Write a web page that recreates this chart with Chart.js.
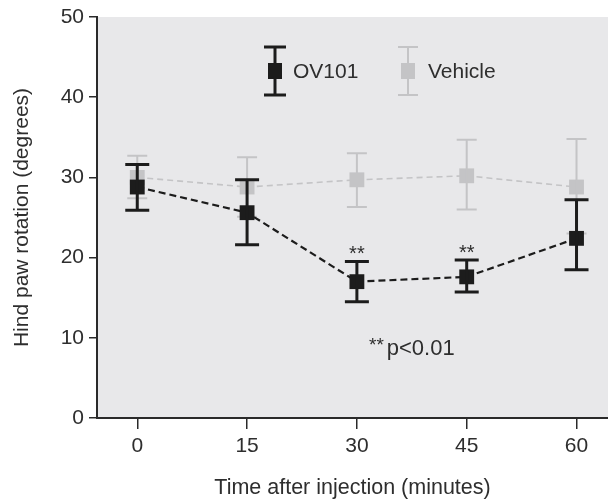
<!DOCTYPE html>
<html>
<head>
<meta charset="utf-8">
<script src="https://cdn.jsdelivr.net/npm/chart.js@4/dist/chart.umd.min.js"></script>
<style>
  html, body { margin: 0; padding: 0; background: #ffffff; }
  #wrap { width: 608px; height: 501px; }
</style>
</head>
<body>
<div id="wrap"><canvas id="c" width="608" height="501"></canvas></div>
<script>
// ---- data ----
const timePoints = [0, 15, 30, 45, 60];
const xTickLabels = [0, 15, 30, 45, 60];
const yTickValues = [0, 10, 20, 30, 40, 50];

const ov101Mean  = [28.8, 25.6, 17.0, 17.6, 22.4];
const ov101Upper = [31.6, 29.7, 19.5, 19.7, 27.2];
const ov101Lower = [25.9, 21.6, 14.5, 15.7, 18.5];

const vehicleMean  = [30.0, 28.8, 29.7, 30.2, 28.8];
const vehicleUpper = [32.7, 32.5, 33.0, 34.7, 34.8];
const vehicleLower = [27.4, 25.1, 26.3, 26.0, 23.0];

const significantTimes = [30, 45];
const seriesNames = ['OV101', 'Vehicle'];
const noteText = ['**', 'p<0.01'];
const xTitle = 'Time after injection (minutes)';
const yTitle = 'Hind paw rotation (degrees)';

// ---- styles ----
const FONT = '"Liberation Sans", Arial, Helvetica, sans-serif';
const TEXT = '#2e2e2e';
const AXIS = '#2a2a2a';
const PLOT_BG = '#e8e8ea';
const BLACK = '#1c1c1c';
const GREY = '#c4c4c6';

const ov101Pts = timePoints.map((t, i) => ({x: t, y: ov101Mean[i]}));
const vehPts = timePoints.map((t, i) => ({x: t, y: vehicleMean[i]}));

const errorBars = [
  {upper: ov101Upper, lower: ov101Lower, color: BLACK, width: 3, cap: 12},
  {upper: vehicleUpper, lower: vehicleLower, color: GREY, width: 2, cap: 10}
];

const bgPlugin = {
  id: 'bg',
  beforeDraw(chart) {
    const {ctx, chartArea: a} = chart;
    ctx.save();
    ctx.fillStyle = PLOT_BG;
    ctx.fillRect(a.left, a.top, a.right - a.left, a.bottom - a.top);
    ctx.restore();
  }
};

function drawBar(ctx, x, yHi, yLo, color, width, cap) {
  ctx.save();
  ctx.strokeStyle = color;
  ctx.lineWidth = width;
  ctx.setLineDash([]);
  ctx.beginPath();
  ctx.moveTo(x, yHi); ctx.lineTo(x, yLo);
  ctx.moveTo(x - cap, yHi); ctx.lineTo(x + cap, yHi);
  ctx.moveTo(x - cap, yLo); ctx.lineTo(x + cap, yLo);
  ctx.stroke();
  ctx.restore();
}

const errPlugin = {
  id: 'err',
  afterDatasetDraw(chart, args) {
    const eb = errorBars[args.index];
    if (!eb) return;
    const {ctx, scales: {x, y}} = chart;
    timePoints.forEach((t, i) => {
      drawBar(ctx, x.getPixelForValue(t), y.getPixelForValue(eb.upper[i]),
              y.getPixelForValue(eb.lower[i]), eb.color, eb.width, eb.cap);
    });
  }
};

const annoPlugin = {
  id: 'anno',
  afterDraw(chart) {
    const {ctx, scales: {x, y}} = chart;
    ctx.save();
    // significance stars
    ctx.fillStyle = TEXT;
    ctx.font = '20px ' + FONT;
    ctx.textAlign = 'center';
    ctx.textBaseline = 'middle';
    significantTimes.forEach(t => {
      const i = timePoints.indexOf(t);
      ctx.fillText('**', x.getPixelForValue(t), y.getPixelForValue(ov101Upper[i]) - 7);
    });
    // p-value note
    const nx = 369, ny = 355;
    ctx.textAlign = 'left';
    ctx.textBaseline = 'alphabetic';
    ctx.font = '19px ' + FONT;
    ctx.fillText(noteText[0], nx, ny - 4);
    const w0 = ctx.measureText(noteText[0]).width;
    ctx.font = '22px ' + FONT;
    ctx.fillText(noteText[1], nx + w0 + 3, ny);

    // legend
    const items = [
      {cx: 275, tx: 293, color: BLACK, width: 3, cap: 11, label: seriesNames[0]},
      {cx: 408, tx: 428, color: GREY, width: 2, cap: 10, label: seriesNames[1]}
    ];
    const ly = 71;
    items.forEach(it => {
      drawBar(ctx, it.cx, 47, 95, it.color, it.width, it.cap);
      ctx.fillStyle = it.color;
      ctx.fillRect(it.cx - 7, ly - 8, 14, 16);
      ctx.fillStyle = TEXT;
      ctx.font = '21px ' + FONT;
      ctx.textAlign = 'left';
      ctx.textBaseline = 'middle';
      ctx.fillText(it.label, it.tx, ly + 1);
    });
    ctx.restore();
  }
};

new Chart(document.getElementById('c'), {
  type: 'line',
  data: {
    datasets: [
      {
        label: seriesNames[0],
        data: ov101Pts,
        borderColor: BLACK,
        backgroundColor: BLACK,
        borderWidth: 2.2,
        borderDash: [7, 4],
        pointStyle: 'rect',
        pointRadius: 10.5,
        pointHoverRadius: 10.5,
        pointBackgroundColor: BLACK,
        pointBorderWidth: 0,
        tension: 0
      },
      {
        label: seriesNames[1],
        data: vehPts,
        borderColor: GREY,
        backgroundColor: GREY,
        borderWidth: 1.6,
        borderDash: [6, 4],
        pointStyle: 'rect',
        pointRadius: 10.5,
        pointHoverRadius: 10.5,
        pointBackgroundColor: GREY,
        pointBorderWidth: 0,
        tension: 0
      }
    ]
  },
  options: {
    responsive: false,
    animation: false,
    devicePixelRatio: 1,
    layout: {autoPadding: false, padding: {left: 0, right: 0, top: 17, bottom: 0}},
    plugins: {legend: {display: false}, tooltip: {enabled: false}},
    scales: {
      x: {
        type: 'linear',
        min: -5.5,
        max: 64.3,
        afterBuildTicks(scale) { scale.ticks = xTickLabels.map(v => ({value: v})); },
        afterFit(scale) { scale.height = 83; scale.paddingLeft = 0; scale.paddingRight = 0; },
        border: {display: true, color: AXIS, width: 2},
        grid: {drawOnChartArea: false, drawTicks: true, tickLength: 11, color: AXIS, lineWidth: 1.5},
        ticks: {color: TEXT, font: {family: FONT, size: 21}, padding: 5, maxRotation: 0,
                callback: v => String(v)},
        title: {display: true, text: xTitle, color: TEXT, font: {family: FONT, size: 21.5},
                padding: {top: 0, bottom: 0}}
      },
      y: {
        type: 'linear',
        min: 0,
        max: 50,
        afterBuildTicks(scale) { scale.ticks = yTickValues.map(v => ({value: v})); },
        afterFit(scale) { scale.width = 97; scale.paddingTop = 0; scale.paddingBottom = 0; },
        border: {display: true, color: AXIS, width: 2},
        grid: {drawOnChartArea: false, drawTicks: true, tickLength: 8, color: AXIS, lineWidth: 1.5},
        ticks: {color: TEXT, font: {family: FONT, size: 21}, padding: 5},
        title: {display: true, text: yTitle, color: TEXT, font: {family: FONT, size: 21},
                padding: {top: 10, bottom: 0}}
      }
    }
  },
  plugins: [bgPlugin, errPlugin, annoPlugin]
});
</script>
</body>
</html>
